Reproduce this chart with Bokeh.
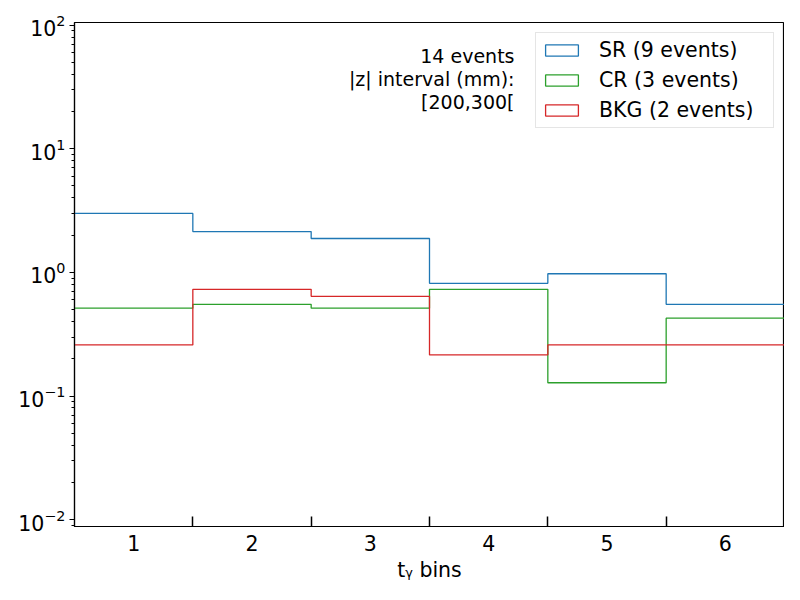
from bokeh.plotting import figure
from bokeh.models import FixedTicker, LogTicker, Label, Range1d
from bokeh.embed import file_html
from bokeh.resources import INLINE

bins = [1, 2, 3, 4, 5, 6]
sr_values = [3.0, 2.14, 1.88, 0.815, 0.975, 0.552]
cr_values = [0.513, 0.552, 0.513, 0.729, 0.128, 0.426]
bkg_values = [0.259, 0.729, 0.64, 0.215, 0.259, 0.259]
series_labels = ["SR (9 events)", "CR (3 events)", "BKG (2 events)"]
series_colors = ["#1f77b4", "#2ca02c", "#d62728"]
info_lines = ["14 events", "|z| interval (mm):", "[200,300["]

edges = [b - 0.5 for b in bins] + [bins[-1] + 0.5]
nan = float("nan")

p = figure(width=784, height=584, y_axis_type="log",
           x_range=Range1d(0.5, 6.5), y_range=Range1d(0.0088, 105),
           output_backend="svg", toolbar_location=None,
           min_border_left=74, min_border_right=0, min_border_top=22, min_border_bottom=56)
p.grid.visible = False
p.outline_line_color = "black"
p.outline_line_width = 1.2

for vals, lab, col in zip([sr_values, cr_values, bkg_values], series_labels, series_colors):
    p.step(x=edges, y=vals + [vals[-1]], mode="after", line_color=col, line_width=1.3)
    p.quad(left=[nan], right=[nan], top=[nan], bottom=[nan], fill_color=None, line_color=col,
           line_width=1.3, legend_label=lab)

# x axis
p.xaxis.ticker = FixedTicker(ticks=bins, minor_ticks=edges[1:-1])
p.xaxis.major_tick_in = 0
p.xaxis.major_tick_out = 0
p.xaxis.minor_tick_in = 10
p.xaxis.minor_tick_out = 0
p.xaxis.minor_tick_line_color = "black"
p.xaxis.minor_tick_line_width = 1.5
p.xaxis.axis_label = "tᵧ bins"
p.xaxis.major_label_standoff = 8

# y axis
p.yaxis.ticker = LogTicker(num_minor_ticks=10)
p.yaxis.major_tick_in = 0
p.yaxis.major_tick_out = 5
p.yaxis.minor_tick_in = 0
p.yaxis.minor_tick_out = 3
p.yaxis.major_label_standoff = 4

for ax in [p.xaxis, p.yaxis]:
    ax.axis_line_color = "black"
    ax.axis_line_width = 1.2
    ax.major_label_text_font = "DejaVu Sans"
    ax.major_label_text_font_size = "20.5px"
    ax.major_label_text_color = "black"
    ax.axis_label_text_font = "DejaVu Sans"
    ax.axis_label_text_font_size = "20.5px"
    ax.axis_label_text_font_style = "normal"
    ax.axis_label_text_color = "black"
    ax.major_tick_line_color = "black"
p.xaxis.axis_label_standoff = 4

# annotation
for i, t in enumerate(info_lines):
    p.add_layout(Label(x=440, y=471 - 23 * i, x_units="screen", y_units="screen", text=t,
                       text_align="right", text_baseline="middle",
                       text_font="DejaVu Sans", text_font_size="19px", text_color="black"))

leg = p.legend[0]
leg.location = "top_right"
leg.margin = 10
leg.padding = 5
leg.spacing = 6
leg.label_height = 22
leg.label_width = 169
leg.glyph_width = 41
leg.glyph_height = 14
leg.label_standoff = 17
leg.label_text_font = "DejaVu Sans"
leg.label_text_font_size = "20.5px"
leg.label_text_color = "black"
leg.border_line_color = "#cccccc"
leg.border_line_width = 1
leg.background_fill_alpha = 0.8

open("out.html", "w").write(file_html(p, INLINE))
